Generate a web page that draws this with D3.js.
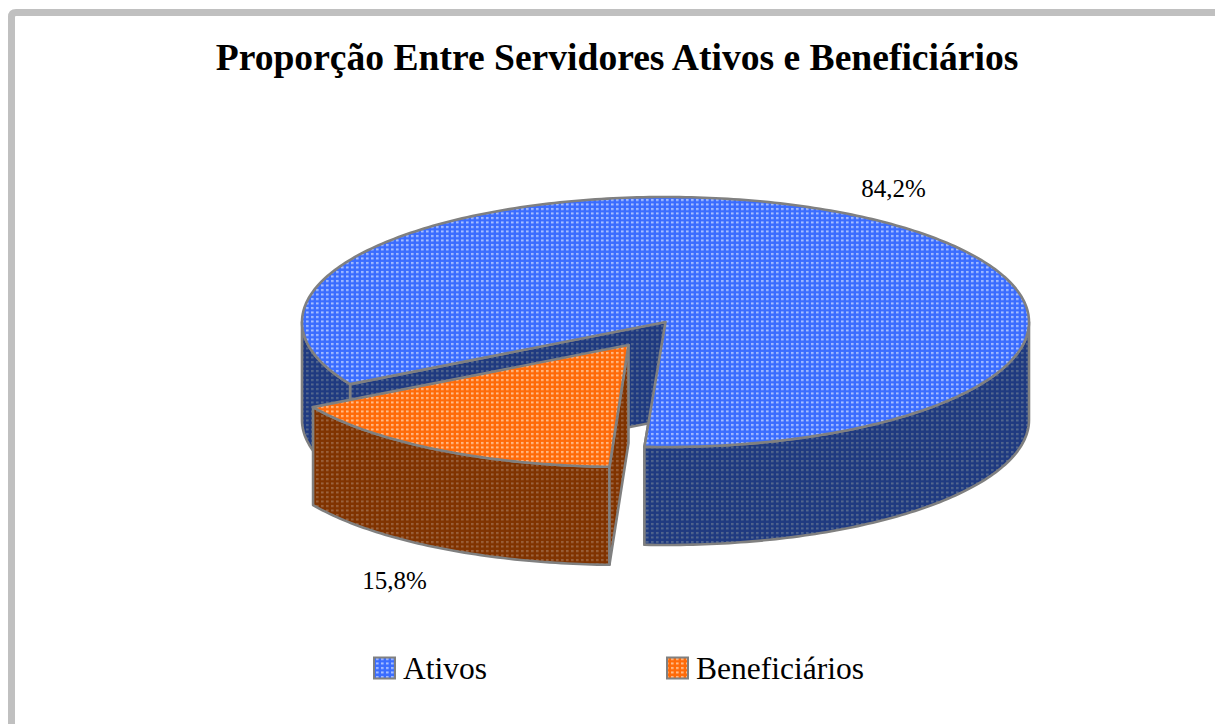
<!DOCTYPE html>
<html><head><meta charset="utf-8"><style>html,body{margin:0;padding:0;background:#fff}svg{display:block}</style>
<script src="https://cdn.jsdelivr.net/npm/d3@7"></script></head><body><svg id="c" width="1215" height="724"></svg>
<script>
const categories = ["Ativos", "Beneficiários"];
const values = [84.2, 15.8];
const labels = ["84,2%", "15,8%"];
const titleText = "Proporção Entre Servidores Ativos e Beneficiários";

const W = 1215, H = 724, FONT = "'Liberation Serif','Times New Roman',serif";
const cx = 665.5, cy = 322, rx = 363.5, ry = 125, depth = 98;
const explode = [null, {x0:-35, y0:20, x1:-37, y1:23, ax:-37, ay:23}];
const colors = [
  {top:"#3a6cff", dot:"#a9c0ff", side:"#1f3a80", sideDot:"#54688f"},
  {top:"#ff6a08", dot:"#ffbd8c", side:"#803300", sideDot:"#9c6440"}
];
const edge = "#808080";
const svg = d3.select("#c");
const defs = svg.append("defs");
function pattern(id, bg, dot){
  const p = defs.append("pattern").attr("id",id).attr("patternUnits","userSpaceOnUse").attr("width",5).attr("height",4.5);
  p.append("rect").attr("width",5).attr("height",4.5).attr("fill",bg);
  p.append("rect").attr("x",1).attr("y",1).attr("width",2.6).attr("height",2).attr("fill",dot);
}
colors.forEach((c,i)=>{pattern("t"+i,c.top,c.dot);pattern("s"+i,c.side,c.sideDot);});

// frame
svg.append("path").attr("d",`M${W+5},12.5 H16 Q11.5,12.5 11.5,17 V${H+5}`).attr("fill","none").attr("stroke","#c0c0c0").attr("stroke-width",7);

svg.append("text").attr("x",617).attr("y",70).attr("text-anchor","middle").attr("font-family",FONT).attr("font-weight","bold").attr("font-size",37.6).attr("fill","#000").text(titleText);

const pie = d3.pie().sort(null).startAngle(240.2*Math.PI/180).endAngle((240.2+360)*Math.PI/180);
const arcs = pie(values);
const TAU=2*Math.PI;
const line = d3.line();
function drawSlice(d,i){
  const o = explode[i], g = svg.append("g");
  const a0=d.startAngle,a1=d.endAngle;
  const pt=(a)=>{
    const t=(a-a0)/(a1-a0);
    const ox=o?o.x0+(o.x1-o.x0)*t:0, oy=o?o.y0+(o.y1-o.y0)*t:0;
    return [cx+ox+rx*Math.sin(a), cy+oy-ry*Math.cos(a)];
  };
  const rim=(b0,b1)=>{
    const n=Math.max(2,Math.ceil(Math.abs(b1-b0)*60));
    return d3.range(n+1).map(k=>pt(b0+(b1-b0)*k/n));
  };
  const apex=[cx+(o?o.ax:0), cy+(o?o.ay:0)];
  const style=(s,kind)=>s.attr("fill",`url(#${kind}${i})`).attr("stroke",edge).attr("stroke-width",2.6).attr("stroke-linejoin","round");
  const down=p=>[p[0],p[1]+depth];
  const cutWall=(p)=>style(g.append("path").attr("d",line([apex,p,down(p),down(apex)])+"Z"),"s");
  if(i===0){ cutWall(pt(a1)); cutWall(pt(a0)); }
  for(let k=0;k<3;k++){
    const lo=Math.max(a0,Math.PI/2+k*TAU), hi=Math.min(a1,3*Math.PI/2+k*TAU);
    if(hi>lo){
      const pts=rim(lo,hi);
      style(g.append("path").attr("d",line(pts.concat(pts.slice().reverse().map(down)))+"Z"),"s");
    }
  }
  if(i===1) cutWall(pt(a0));
  style(g.append("path").attr("d",line([apex].concat(rim(a0,a1)))+"Z"),"t");
}
arcs.forEach(drawSlice);

svg.append("text").attr("x",893.5).attr("y",197).attr("text-anchor","middle").attr("font-family",FONT).attr("font-size",25).text(labels[0]);
svg.append("text").attr("x",394.5).attr("y",589).attr("text-anchor","middle").attr("font-family",FONT).attr("font-size",25).text(labels[1]);

const legendX = d3.scaleOrdinal().domain(categories).range([373,666]);
categories.forEach((c,i)=>{
  const x=legendX(c);
  svg.append("rect").attr("x",x+1).attr("y",657.5).attr("width",21).attr("height",21).attr("fill",`url(#t${i})`).attr("stroke",edge).attr("stroke-width",2);
  svg.append("text").attr("x",x+30).attr("y",679).attr("font-family",FONT).attr("font-size",31.5).text(c);
});
</script></body></html>
